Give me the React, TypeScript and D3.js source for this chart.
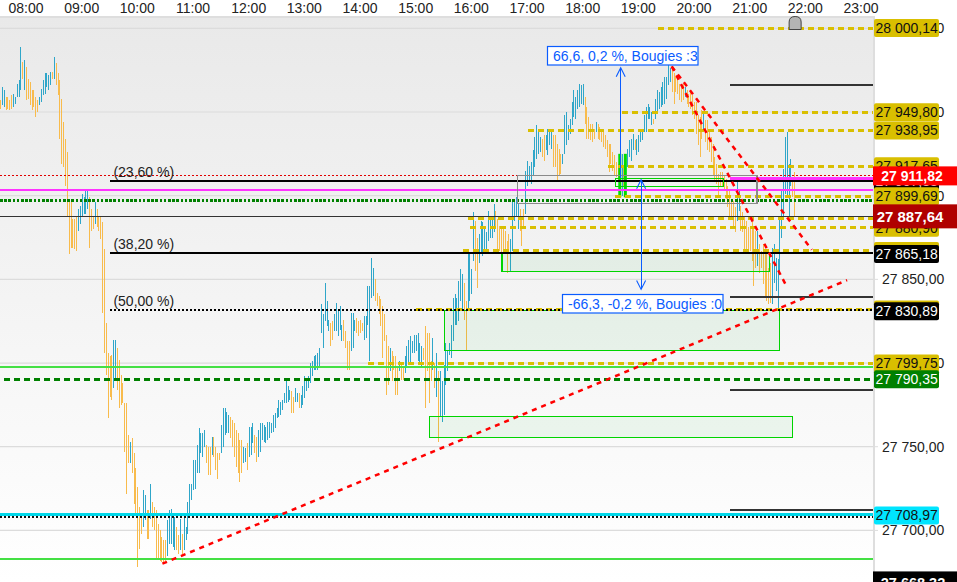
import { useEffect, useRef } from 'react';
import * as d3 from 'd3';

const width = 957;
const height = 582;
const plotRight = 873;

// bar values are stored as price minus 27000
const priceBase = 27000;
const firstBar = '07:32';
const barMinutes = 2;

const barHighs = [
  957,965,963,959,959,957,960,961,959,967,
  969,989,980,981,977,970,968,963,963,959,
  957,959,964,969,973,973,972,974,974,983,
  979,973,969,958,944,934,926,897,897,886,886,
  887,892,894,901,899,903,904,899,892,887,
  896,892,888,887,884,868,
  824,806,804,805,814,814,809,802,793,788,
  776,776,757,753,755,746,737,726,714,708,
  724,721,712,712,728,717,714,712,704,700,
  696,694,694,706,712,713,708,708,702,697,
  707,698,708,702,717,728,728,742,742,751,
  761,758,758,760,751,750,750,756,756,750,
  746,746,763,773,773,771,769,768,766,764,
  760,758,754,754,750,749,752,762,762,764,757,
  756,760,764,764,763,762,765,765,764,769,
  770,773,778,777,778,782,790,786,784,783,
  780,785,782,782,781,786,792,791,792,800,
  801,804,805,806,
  809,835,829,848,837,826,824,825,829,836,
  831,834,823,826,819,813,813,830,830,826,
  827,825,826,824,828,828,846,846,863,857,850,
  842,840,838,834,829,817,810,809,807,804,
  804,797,801,800,797,804,810,814,816,813,
  817,817,818,812,810,809,822,818,818,801,
  815,800,806,795,795,789,799,812,807,812,
  823,839,841,839,849,856,853,848,837,868,
  865,856,890,885,875,877,885,884,882,878,
  891,886,888,895,891,886,882,882,880,879,
  873,877,874,897,897,899,895,892,887,892,
  915,
  921,918,920,927,935,942,938,935,934,936,
  936,940,938,940,936,936,931,928,925,925,
  948,950,942,946,956,963,959,963,967,966,
  967,959,953,947,943,943,940,944,943,941,
  939,938,936,933,931,931,926,924,920,919,
  917,925,918,925,928,933,
  934,937,933,934,936,938,939,948,953,955,
  953,950,946,958,963,962,965,968,971,971,
  978,976,976,973,971,971,967,967,967,965,
  963,961,963,960,956,956,948,947,951,950,
  945,945,939,935,931,923,919,913,
  914,914,912,910,906,903,897,897,893,909,
  903,894,890,887,885,881,881,884,881,879,
  879,871,867,871,866,865,857,860,869,871,
  863,862,887,903,916,935,938,919,922,911,
  914,
];

const barLows = [
  952,954,953,951,952,951,952,953,955,959,
  959,963,970,963,957,958,954,951,953,947,
  950,954,956,960,961,965,963,966,970,970,
  966,960,934,919,917,906,887,865,869,869,868,
  867,879,883,887,889,889,892,869,879,880,
  883,881,879,874,830,806,
  793,767,780,778,785,790,784,773,775,776,
  747,722,740,740,734,716,710,678,689,698,
  702,706,695,695,707,702,700,683,683,682,
  681,681,682,685,692,692,690,688,688,686,
  688,686,688,694,698,708,718,724,725,734,
  734,746,744,750,740,733,733,745,744,736,
  731,742,746,750,757,758,758,755,750,744,
  738,734,729,734,740,741,736,744,745,752,746,
  741,744,747,754,753,752,754,755,758,759,
  761,767,768,769,772,776,776,777,778,770,
  770,777,777,773,773,775,779,783,785,788,
  792,796,796,796,
  797,818,809,825,822,819,810,814,819,819,
  816,820,813,813,809,796,796,807,809,819,
  818,816,818,819,814,815,823,801,839,840,837,
  834,829,822,803,813,781,787,795,789,796,
  781,781,795,790,790,794,798,799,800,806,
  806,807,801,799,798,802,773,795,776,789,
  796,785,780,753,768,765,769,787,795,805,
  803,813,823,823,825,837,832,826,807,831,
  837,841,861,855,845,860,865,864,867,866,
  873,875,875,878,881,867,867,866,868,867,
  854,866,855,867,885,887,880,879,870,880,
  889,
  906,908,907,912,917,922,925,926,923,921,
  927,924,930,928,917,917,909,912,913,919,
  925,930,933,937,942,947,946,952,953,955,
  954,943,934,934,933,932,934,938,934,933,
  932,929,928,923,914,919,915,912,911,909,
  908,900,905,900,917,923,
  921,927,927,924,926,932,933,938,938,946,
  946,942,943,946,950,952,953,954,955,958,
  966,968,962,955,962,961,957,956,957,959,
  955,953,952,948,946,937,930,923,934,939,
  932,927,926,920,912,909,907,900,
  905,905,903,898,893,887,886,881,878,885,
  891,879,878,865,867,867,867,861,846,857,
  858,854,857,847,839,837,835,836,835,848,
  843,831,855,875,887,901,900,888,906,899,
  887,
];

// u = up bar, d = down bar, same rows as above
const barDirs = [
  'duudddduuu',
  'uududddddd',
  'duuuuuuudu',
  'ddddddddddd',
  'duuuuuuddd',
  'uddddd',
  'dddduudddd',
  'dddudddddd',
  'uudduddddd',
  'ddduuuuudd',
  'uduuuuuuuu',
  'uuuudddudd',
  'dduuuuuddd',
  'dddduuduuud',
  'duuuuuuuuu',
  'uuuuuuuuud',
  'duuduuuuuu',
  'uuuu',
  'uuuuuudduu',
  'uuudddduuu',
  'dddduuuuuud',
  'dddddddudd',
  'ddudduuuuu',
  'uuuuuddddd',
  'ududuuuuuu',
  'uuuuuuuddu',
  'uuudduuuuu',
  'uuuudddddd',
  'dduuuuuddd',
  'u',
  'uuuuuuuudd',
  'uuuudddddu',
  'uuuuuuuuuu',
  'uddddddudd',
  'dddddddddd',
  'duduuu',
  'uuduuuuuuu',
  'uuduuuuuuu',
  'uudddddddu',
  'dddddddddu',
  'dddddddd',
  'dddddddddu',
  'uddddddddd',
  'uddddddduu',
  'uuuuuuuuud',
  'd',
].join('');

const timeLabels = ['08:00','09:00','10:00','11:00','12:00','13:00','14:00','15:00','16:00','17:00','18:00','19:00','20:00','21:00','22:00','23:00'];
const priceTicks = [28000, 27950, 27900, 27850, 27800, 27750, 27700];

const signalBars = [['18:40', 27925, 27899], ['18:46', 27925, 27899]] as const;

// yellow dashed levels, [start, price]
const yellowLevels: Array<[string, number]> = [
  ['19:21', 28000.14], ['18:42', 27949.8], ['17:01', 27938.95], ['18:27', 27917.65], ['18:35', 27899.69],
  ['15:56', 27886.2], ['15:59', 27880.9], ['15:51', 27867], ['15:00', 27832], ['14:09', 27799.75],
];
const darkLevels = [27966, 27839.6, 27784, 27712.4];
const darkStart = '20:39';
const fiboLevels: Array<[string, number, boolean]> = [
  ['(23,60 %)', 27908.6, false], ['(38,20 %)', 27865.6, false], ['(50,00 %)', 27831.5, true],
];
const fiboStart = '09:31';

// [start, end, top, bottom]
const greenZones: Array<[string, string, number, number]> = [
  ['15:31', '21:32', 27831.5, 27807.6],
  ['16:33', '21:21', 27865.9, 27854.5],
  ['15:15', '21:46', 27768.2, 27755.7],
];
const smallZone: [string, string, number, number] = ['18:35', '20:32', 27910.1, 27905.6];
const grayBox: [string, string, number, number] = ['16:50', '21:08', 27911.9, 27895.2];

const trendLines: Array<[string, number, string, number]> = [
  ['10:27', 27680.1, '22:45', 27849.5],
  ['19:36', 27977.2, '22:07', 27867.7],
  ['19:36', 27977.2, '21:40', 27845.6],
];

// [label, price, fill, text colour]
const priceTags: Array<[string, number, string, string]> = [
  ['28 000,14', 28000.14, '#d9bf00', '#111'],
  ['27 949,80', 27949.8, '#d9bf00', '#111'],
  ['27 938,95', 27938.95, '#d9bf00', '#111'],
  ['27 917,65', 27917.65, '#d9bf00', '#111'],
  ['27 907,88', 27908.6, '#000', '#fff'],
  ['27 880,90', 27880.9, '#d9bf00', '#111'],
  ['27 899,69', 27899.69, '#d9bf00', '#111'],
  ['27 867,00', 27867, '#d9bf00', '#111'],
  ['27 865,18', 27865.18, '#000', '#fff'],
  ['27 832,00', 27832, '#d9bf00', '#111'],
  ['27 830,89', 27830.89, '#000', '#fff'],
  ['27 799,75', 27799.75, '#d9bf00', '#111'],
  ['27 790,35', 27790.35, '#008000', '#fff'],
  ['27 708,97', 27708.97, '#00e5ff', '#111'],
];
// [label, price, fill, height, font size, text centre]
const bigTags: Array<[string, number, string, number, number, number]> = [
  ['27 911,82', 27911.82, '#ff0000', 19, 14, 912],
  ['27 887,64', 27887.64, '#b00000', 24, 15, 910],
  ['27 668,32', 27668.32, '#000', 24, 14.5, 913],
];

const toDate = (t: string) => {
  const [h, m] = t.split(':').map(Number);
  return new Date(2024, 0, 15, h, m);
};

const App = () => {
  const svgRef = useRef<SVGSVGElement | null>(null);

  useEffect(() => {
    const svg = d3.select(svgRef.current);
    svg.selectAll('*').remove();
    svg.style('font-family', '"Liberation Sans", Arial, sans-serif');

    const x = d3.scaleTime().domain([toDate('08:00'), toDate('23:00')]).range([26, 861]);
    const y = d3.scaleLinear().domain([27700, 28000]).range([530.4, 28.3]);
    const X = (t: string) => x(toDate(t));
    const locale = d3.formatLocale({ decimal: ',', thousands: ' ', grouping: [3], currency: ['', ''] });
    const priceFmt = locale.format(',.2f');

    const defs = svg.append('defs');
    const grad = defs.append('linearGradient').attr('id', 'bg').attr('x1', 0).attr('x2', 0).attr('y1', 0).attr('y2', 1);
    grad.append('stop').attr('offset', '0%').attr('stop-color', '#e9e9e9');
    grad.append('stop').attr('offset', '100%').attr('stop-color', '#ffffff');
    const blur = defs.append('filter').attr('id', 'glow').attr('x', '-200%').attr('width', '500%').attr('y', '-10%').attr('height', '120%');
    blur.append('feGaussianBlur').attr('stdDeviation', 0.7);

    svg.append('rect').attr('width', width).attr('height', height).attr('fill', '#fff');
    svg.append('rect').attr('x', 0).attr('y', 17).attr('width', plotRight).attr('height', height - 17).attr('fill', 'url(#bg)');
    svg.append('rect').attr('x', 0).attr('y', 16).attr('width', plotRight + 2).attr('height', 2).attr('fill', '#dedede');
    svg.append('rect').attr('x', plotRight).attr('y', 16).attr('width', 2).attr('height', height).attr('fill', '#dedede');

    // grid
    priceTicks.forEach((p) => {
      svg.append('line').attr('x1', 0).attr('x2', plotRight).attr('y1', y(p)).attr('y2', y(p)).attr('stroke', '#dcdcdc').attr('stroke-width', 1.2);
      svg.append('line').attr('x1', plotRight + 2).attr('x2', plotRight + 5).attr('y1', y(p)).attr('y2', y(p)).attr('stroke', '#ddd');
      svg.append('text').attr('x', 882).attr('y', y(p)).attr('dy', '0.35em').attr('font-size', 14).attr('fill', '#222').text(priceFmt(p));
    });

    // time axis
    timeLabels.forEach((t) => {
      svg.append('text').attr('x', X(t)).attr('y', 13).attr('text-anchor', 'middle').attr('font-size', 14).attr('fill', '#222').text(t);
    });

    // bars
    const start = toDate(firstBar).getTime();
    svg.append('g').attr('shape-rendering', 'crispEdges').selectAll('line').data(barHighs).join('line')
      .each(function (h, i) {
        const px = Math.round(x(new Date(start + i * barMinutes * 60000))) + 0.5;
        d3.select(this)
          .attr('x1', px).attr('x2', px)
          .attr('y1', y(h + priceBase)).attr('y2', y(barLows[i] + priceBase))
          .attr('stroke', barDirs[i] === 'u' ? '#2fa6c9' : '#f8bb4c');
      });

    // signal bars
    signalBars.forEach(([t, hi, lo]) => {
      svg.append('rect').attr('x', X(t) - 1.5).attr('width', 3).attr('y', y(hi)).attr('height', y(lo) - y(hi))
        .attr('fill', '#00dc00').attr('filter', 'url(#glow)');
    });

    const hLine = (x1: number, p: number, color: string, w: number, dash?: string) => {
      const l = svg.append('line').attr('x1', x1).attr('x2', plotRight).attr('y1', y(p)).attr('y2', y(p))
        .attr('stroke', color).attr('stroke-width', w).attr('shape-rendering', 'crispEdges');
      if (dash) l.attr('stroke-dasharray', dash);
    };

    // zones
    greenZones.forEach(([a, b, top, bot]) => {
      svg.append('rect').attr('x', X(a)).attr('y', y(top)).attr('width', X(b) - X(a)).attr('height', y(bot) - y(top))
        .attr('fill', 'rgba(0,170,40,0.06)').attr('stroke', '#00d400').attr('stroke-width', 1.2).attr('shape-rendering', 'crispEdges');
    });

    // full width lines
    hLine(0, 27911.82, '#e00000', 1, '2 2');
    hLine(X('20:39'), 27910.3, '#ff33ff', 3);
    hLine(0, 27903.5, '#ff33ff', 2.4);
    hLine(0, 27897.2, '#008000', 3, '2.6 1.6');
    hLine(0, 27887.64, '#333', 1);
    hLine(0, 27797.8, '#44e044', 2);
    hLine(4, 27790.35, '#008000', 3, '6 4');
    hLine(0, 27709.4, '#00d8ea', 3);
    hLine(0, 27708.3, '#111', 2, '2 2');
    hLine(0, 27683, '#44e044', 2);

    // yellow levels
    yellowLevels.forEach(([t, p]) => hLine(X(t), p, '#d9bf00', 3, '6 4'));

    // short dark levels
    darkLevels.forEach((p) => hLine(X(darkStart), p, '#333', 2));

    // fibo levels
    fiboLevels.forEach(([label, p, dotted]) => {
      hLine(X(fiboStart), p, '#000', dotted ? 2 : 2.4, dotted ? '2 2' : undefined);
      svg.append('text').attr('x', X(fiboStart) + 3).attr('y', y(p) - 4).attr('font-size', 14).attr('fill', '#222').text(label);
    });

    // boxes
    svg.append('rect').attr('x', X(smallZone[0])).attr('y', y(smallZone[2])).attr('width', X(smallZone[1]) - X(smallZone[0])).attr('height', y(smallZone[3]) - y(smallZone[2]))
      .attr('fill', 'none').attr('stroke', '#00d400').attr('stroke-width', 1.2).attr('shape-rendering', 'crispEdges');
    svg.append('rect').attr('x', X(grayBox[0])).attr('y', y(grayBox[2])).attr('width', X(grayBox[1]) - X(grayBox[0])).attr('height', y(grayBox[3]) - y(grayBox[2]))
      .attr('fill', 'none').attr('stroke', '#8a8a8a').attr('stroke-width', 1.2).attr('shape-rendering', 'crispEdges');

    // trend lines
    trendLines.forEach(([t0, p0, t1, p1]) => {
      svg.append('line').attr('x1', X(t0)).attr('y1', y(p0)).attr('x2', X(t1)).attr('y2', y(p1))
        .attr('stroke', '#f00').attr('stroke-width', 2.5).attr('stroke-dasharray', '5 5');
    });

    // measure arrows
    const blue = '#0a5cff';
    const measure = (t: string, pa: number, pb: number, up: boolean, down: boolean) => {
      const px = X(t);
      svg.append('line').attr('x1', px).attr('x2', px).attr('y1', y(pa)).attr('y2', y(pb)).attr('stroke', blue).attr('stroke-width', 1).attr('shape-rendering', 'crispEdges');
      const chevron = (py: number, dir: number) => svg.append('path')
        .attr('d', `M${px - 4.5},${py + dir * 9}L${px},${py}L${px + 4.5},${py + dir * 9}`)
        .attr('fill', 'none').attr('stroke', blue).attr('stroke-width', 1.1);
      if (up) chevron(y(pa), 1);
      if (down) chevron(y(pb), -1);
    };
    measure('18:41', 27976.4, 27910.7, true, false);
    measure('19:03', 27909.5, 27844, true, true);

    const noteBox = (bx: number, by: number, w: number, label: string) => {
      svg.append('rect').attr('x', bx).attr('y', by).attr('width', w).attr('height', 18.5).attr('fill', '#fff').attr('stroke', blue).attr('stroke-width', 1.2);
      svg.append('text').attr('x', bx + 5.5).attr('y', by + 14.5).attr('font-size', 14).attr('fill', blue).text(label);
    };
    noteBox(547.5, 46.5, 150.5, '66,6, 0,2 %, Bougies :3');
    noteBox(562.5, 294.5, 160.5, '-66,3, -0,2 %, Bougies :0');

    // event marker
    const mx = X('21:49');
    svg.append('path').attr('d', `M${mx - 6},29.5V22Q${mx - 6},16.5 ${mx},16.5Q${mx + 6},16.5 ${mx + 6},22V29.5Z`)
      .attr('fill', '#b4b4b4').attr('stroke', '#444').attr('stroke-width', 1);

    // price tags
    priceTags.forEach(([label, p, fill, color]) => {
      const c = y(p);
      svg.append('rect').attr('x', 874).attr('y', c - 9).attr('width', 65).attr('height', 18).attr('rx', 2).attr('fill', fill);
      svg.append('text').attr('x', 875.5).attr('y', c).attr('dy', '0.35em').attr('font-size', 14).attr('fill', color).text(label);
    });
    bigTags.forEach(([label, p, fill, h, size, cx]) => {
      const c = y(p);
      svg.append('rect').attr('x', 873).attr('y', c - h / 2).attr('width', 84).attr('height', h).attr('fill', fill);
      svg.append('text').attr('x', cx).attr('y', c).attr('dy', '0.35em').attr('text-anchor', 'middle').attr('font-size', size).attr('font-weight', 700).attr('fill', '#fff').text(label);
    });
  }, []);

  return <svg ref={svgRef} width={width} height={height} style={{ position: 'absolute', left: 0, top: 0 }} />;
};

export default App;
